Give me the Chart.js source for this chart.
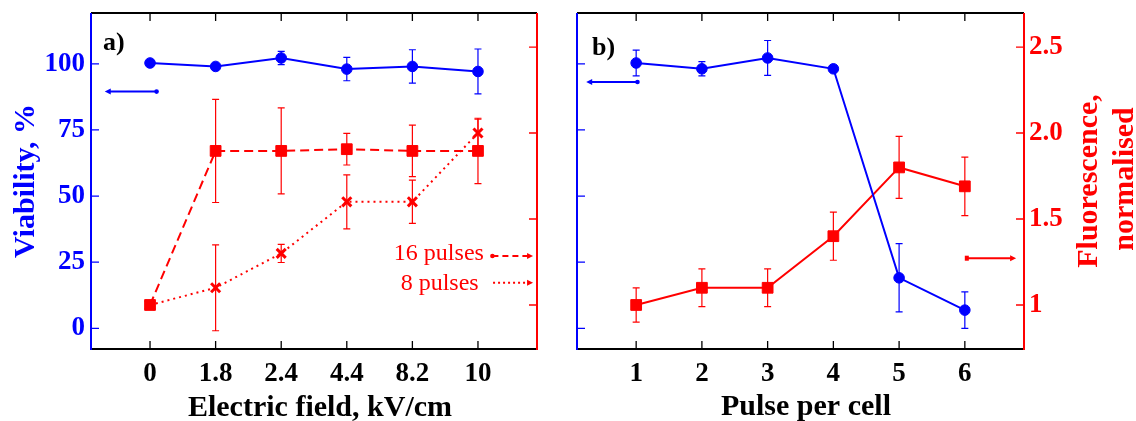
<!DOCTYPE html>
<html>
<head>
<meta charset="utf-8">
<script src="https://cdn.jsdelivr.net/npm/chart.js@4.4.1/dist/chart.umd.min.js"></script>
<style>
  body { margin: 0; background: #fff; }
  #wrap { position: relative; width: 1136px; height: 421px; }
  canvas { position: absolute; top: 0; }
  #chartA { left: 0; }
  #chartB { left: 560px; }
</style>
</head>
<body>
<div id="wrap">
  <canvas id="chartA" width="560" height="421"></canvas>
  <canvas id="chartB" width="576" height="421"></canvas>
</div>
<script>
// panel a) - electric field
const fieldLabels = ['0', '1.8', '2.4', '4.4', '8.2', '10'];
const viabilityA = [100.3, 99, 102.2, 98, 99, 97.1];
const viabilityAErr = [0.8, 0.8, 2.5, 4.4, 6.3, 8.5];
const fluor16 = [1.0, 1.896, 1.896, 1.906, 1.896, 1.896];
const fluor16Err = [0, 0.3, 0.25, 0.092, 0.15, 0.19];
const fluor8 = [1.0, 1.1, 1.3, 1.6, 1.6, 2.0];
const fluor8Err = [0, 0.25, 0.053, 0.157, 0.126, 0.08];

// panel b) - pulses per cell
const pulseLabels = ['1', '2', '3', '4', '5', '6'];
const viabilityB = [100.3, 98.1, 102.2, 98.1, 19.1, 6.9];
const viabilityBErr = [4.9, 2.7, 6.6, 1, 12.9, 6.9];
const fluorB = [1.0, 1.1, 1.1, 1.4, 1.8, 1.69];
const fluorBErr = [0.1, 0.11, 0.11, 0.14, 0.18, 0.17];

const viabilityTicks = [0, 25, 50, 75, 100];
const fluorTicks = [1, 1.5, 2, 2.5];
const fluorTickLabels = ['1', '1.5', '2.0', '2.5'];

const BLUE = '#0000ff';
const RED = '#ff0000';
const SERIF = '"Liberation Serif", "Times New Roman", serif';

const toPoints = (arr, x0) => arr.map((v, i) => ({ x: i + x0, y: v }));

// error bars, drawn under the lines and markers
const errorBars = {
  id: 'errorBars',
  beforeDatasetsDraw(chart) {
    const ctx = chart.ctx;
    chart.data.datasets.forEach(ds => {
      if (!ds.errors) return;
      const xs = chart.scales.x, ys = chart.scales[ds.yAxisID];
      ctx.save();
      ctx.strokeStyle = ds.borderColor;
      ctx.lineWidth = 1.2;
      ctx.beginPath();
      ds.data.forEach((p, j) => {
        const e = ds.errors[j];
        if (!e) return;
        const x = xs.getPixelForValue(p.x);
        const yTop = ys.getPixelForValue(p.y + e), yBot = ys.getPixelForValue(p.y - e);
        ctx.moveTo(x, yTop); ctx.lineTo(x, yBot);
        ctx.moveTo(x - 3.5, yTop); ctx.lineTo(x + 3.5, yTop);
        ctx.moveTo(x - 3.5, yBot); ctx.lineTo(x + 3.5, yBot);
      });
      ctx.stroke();
      ctx.restore();
    });
  }
};

// box with coloured spines and inward ticks
const frame = {
  id: 'frame',
  afterDatasetsDraw(chart) {
    const { ctx, chartArea: a, scales } = chart;
    const L = 8;
    ctx.save();
    ctx.lineWidth = 1.3;
    ctx.strokeStyle = '#000';
    ctx.beginPath();
    scales.x.ticks.forEach(t => {
      const x = scales.x.getPixelForValue(t.value);
      ctx.moveTo(x, a.bottom); ctx.lineTo(x, a.bottom - L);
      ctx.moveTo(x, a.top); ctx.lineTo(x, a.top + L);
    });
    ctx.stroke();
    ctx.strokeStyle = BLUE;
    ctx.beginPath();
    scales.y.ticks.forEach(t => {
      const y = scales.y.getPixelForValue(t.value);
      ctx.moveTo(a.left, y); ctx.lineTo(a.left + L, y);
    });
    ctx.stroke();
    ctx.strokeStyle = RED;
    ctx.beginPath();
    scales.y1.ticks.forEach(t => {
      const y = scales.y1.getPixelForValue(t.value);
      ctx.moveTo(a.right, y); ctx.lineTo(a.right - L, y);
    });
    ctx.stroke();

    ctx.lineWidth = 2;
    ctx.strokeStyle = '#000';
    ctx.beginPath();
    ctx.moveTo(a.left, a.top); ctx.lineTo(a.right, a.top);
    ctx.moveTo(a.left, a.bottom); ctx.lineTo(a.right, a.bottom);
    ctx.stroke();
    ctx.strokeStyle = BLUE;
    ctx.beginPath(); ctx.moveTo(a.left, a.top); ctx.lineTo(a.left, a.bottom + 1); ctx.stroke();
    ctx.strokeStyle = RED;
    ctx.beginPath(); ctx.moveTo(a.right, a.top); ctx.lineTo(a.right, a.bottom + 1); ctx.stroke();
    ctx.restore();
  }
};

// arrows, legend keys and text
const decor = {
  id: 'decor',
  afterDraw(chart, args, opts) {
    const ctx = chart.ctx;
    const xs = chart.scales.x;
    (opts.arrows || []).forEach(a => {
      const ys = chart.scales[a.axis];
      const x1 = xs.getPixelForValue(a.from), x2 = xs.getPixelForValue(a.to);
      const y = ys.getPixelForValue(a.y);
      const dir = Math.sign(x2 - x1);
      ctx.save();
      ctx.strokeStyle = ctx.fillStyle = a.color;
      ctx.lineWidth = 2;
      ctx.setLineDash(a.dash || []);
      ctx.beginPath(); ctx.moveTo(x1, y); ctx.lineTo(x2 - dir * 4, y); ctx.stroke();
      ctx.setLineDash([]);
      ctx.beginPath();
      ctx.moveTo(x2, y); ctx.lineTo(x2 - dir * 6, y - 3); ctx.lineTo(x2 - dir * 6, y + 3);
      ctx.closePath(); ctx.fill();
      if (a.tail === 'dot') { ctx.beginPath(); ctx.arc(x1, y, 2.3, 0, Math.PI * 2); ctx.fill(); }
      if (a.tail === 'square') ctx.fillRect(x1 - 2, y - 2.5, 4, 5);
      ctx.restore();
    });
    (opts.texts || []).forEach(t => {
      let x = t.x, y = t.y;
      if (t.axis) { x = xs.getPixelForValue(t.x); y = chart.scales[t.axis].getPixelForValue(t.y); }
      ctx.save();
      ctx.font = t.font;
      ctx.fillStyle = t.color || '#000';
      ctx.textAlign = t.align || 'center';
      ctx.textBaseline = 'alphabetic';
      ctx.translate(x, y);
      if (t.rotate) ctx.rotate(-Math.PI / 2);
      ctx.fillText(t.text, 0, 0);
      ctx.restore();
    });
  }
};

function axes(labels, x0, xMin, xMax, leftW, rightW, showLeft, showRight) {
  const tickFont = { family: SERIF, size: 27, weight: 'bold' };
  // small lineHeight so the y labels do not push the plot area down
  const yFont = { family: SERIF, size: 27, weight: 'bold', lineHeight: 0.4 };
  return {
    x: {
      type: 'linear', min: xMin, max: xMax,
      afterBuildTicks: s => { s.ticks = labels.map((_, i) => ({ value: i + x0 })); },
      afterFit: s => { s.height = 72; },
      grid: { display: false, drawTicks: false },
      border: { display: false },
      ticks: { autoSkip: false, maxRotation: 0, padding: 9, color: '#000', font: tickFont,
               callback: v => labels[Math.round(v - x0)] }
    },
    y: {
      position: 'left', min: -7.8, max: 119.2,
      afterBuildTicks: s => { s.ticks = viabilityTicks.map(v => ({ value: v })); },
      afterFit: s => { s.width = leftW; },
      grid: { display: false, drawTicks: false },
      border: { display: false },
      ticks: { display: showLeft, padding: 6, color: BLUE, font: yFont }
    },
    y1: {
      position: 'right', min: 0.744, max: 2.698,
      afterBuildTicks: s => { s.ticks = fluorTicks.map(v => ({ value: v })); },
      afterFit: s => { s.width = rightW; },
      grid: { display: false, drawTicks: false },
      border: { display: false },
      ticks: { display: showRight, padding: 5, color: RED, font: yFont,
               callback: v => fluorTickLabels[fluorTicks.indexOf(v)] }
    }
  };
}

const circleSet = (data, errors, x0) => ({
  data: toPoints(data, x0), errors: errors, yAxisID: 'y',
  borderColor: BLUE, backgroundColor: BLUE, borderWidth: 2,
  pointStyle: 'circle', pointRadius: 5.3, pointBorderWidth: 1
});

new Chart(document.getElementById('chartA'), {
  type: 'line',
  data: {
    datasets: [
      circleSet(viabilityA, viabilityAErr, 0),
      {
        data: toPoints(fluor16, 0), errors: fluor16Err, yAxisID: 'y1',
        borderColor: RED, backgroundColor: RED, borderWidth: 2, borderDash: [9, 5],
        pointStyle: 'rect', pointRadius: 7.6, pointBorderWidth: 1
      },
      {
        data: toPoints(fluor8, 0), errors: fluor8Err, yAxisID: 'y1',
        borderColor: RED, backgroundColor: RED, borderWidth: 2, borderDash: [2, 4],
        pointStyle: 'crossRot', pointRadius: 6.4, pointBorderWidth: 3
      }
    ]
  },
  options: {
    responsive: false,
    animation: false,
    layout: { padding: { top: 13, left: 0, right: 0, bottom: 0 } },
    plugins: {
      legend: { display: false },
      tooltip: { enabled: false },
      decor: {
        arrows: [
          { axis: 'y', from: 0.10, to: -0.69, y: 89.5, color: BLUE, tail: 'dot' },
          { axis: 'y1', from: 5.22, to: 5.84, y: 1.285, color: RED, dash: [6, 4], tail: 'dot' },
          { axis: 'y1', from: 5.23, to: 5.84, y: 1.130, color: RED, dash: [2, 3] }
        ],
        texts: [
          { text: 'a)', x: 103, y: 50, font: 'bold 26px ' + SERIF, align: 'left' },
          { text: 'Electric field, kV/cm', x: 320, y: 416, font: 'bold 30px ' + SERIF },
          { text: 'Viability, %', x: 33.5, y: 181, rotate: true, color: BLUE, font: 'bold 30px ' + SERIF },
          { text: '16 pulses', axis: 'y1', x: 5.09, y: 1.262, color: RED, align: 'right', font: '24px ' + SERIF },
          { text: '8 pulses', axis: 'y1', x: 5.01, y: 1.087, color: RED, align: 'right', font: '24px ' + SERIF }
        ]
      }
    },
    scales: axes(fieldLabels, 0, -0.9, 5.9, 91, 23, true, false)
  },
  plugins: [errorBars, frame, decor]
});

new Chart(document.getElementById('chartB'), {
  type: 'line',
  data: {
    datasets: [
      circleSet(viabilityB, viabilityBErr, 1),
      {
        data: toPoints(fluorB, 1), errors: fluorBErr, yAxisID: 'y1',
        borderColor: RED, backgroundColor: RED, borderWidth: 2,
        pointStyle: 'rect', pointRadius: 7.6, pointBorderWidth: 1
      }
    ]
  },
  options: {
    responsive: false,
    animation: false,
    layout: { padding: { top: 13, left: 0, right: 0, bottom: 0 } },
    plugins: {
      legend: { display: false },
      tooltip: { enabled: false },
      decor: {
        arrows: [
          { axis: 'y', from: 1.02, to: 0.24, y: 93.1, color: BLUE, tail: 'dot' },
          { axis: 'y1', from: 6.03, to: 6.78, y: 1.272, color: RED, tail: 'square' }
        ],
        texts: [
          { text: 'b)', x: 32, y: 55, font: 'bold 26px ' + SERIF, align: 'left' },
          { text: 'Pulse per cell', x: 246, y: 415, font: 'bold 30px ' + SERIF },
          { text: 'Fluorescence,', x: 537, y: 181, rotate: true, color: RED, font: 'bold 30px ' + SERIF },
          { text: 'normalised', x: 573, y: 179, rotate: true, color: RED, font: 'bold 30px ' + SERIF }
        ]
      }
    },
    scales: axes(pulseLabels, 1, 0.1, 6.9, 17, 112, false, true)
  },
  plugins: [errorBars, frame, decor]
});
</script>
</body>
</html>
